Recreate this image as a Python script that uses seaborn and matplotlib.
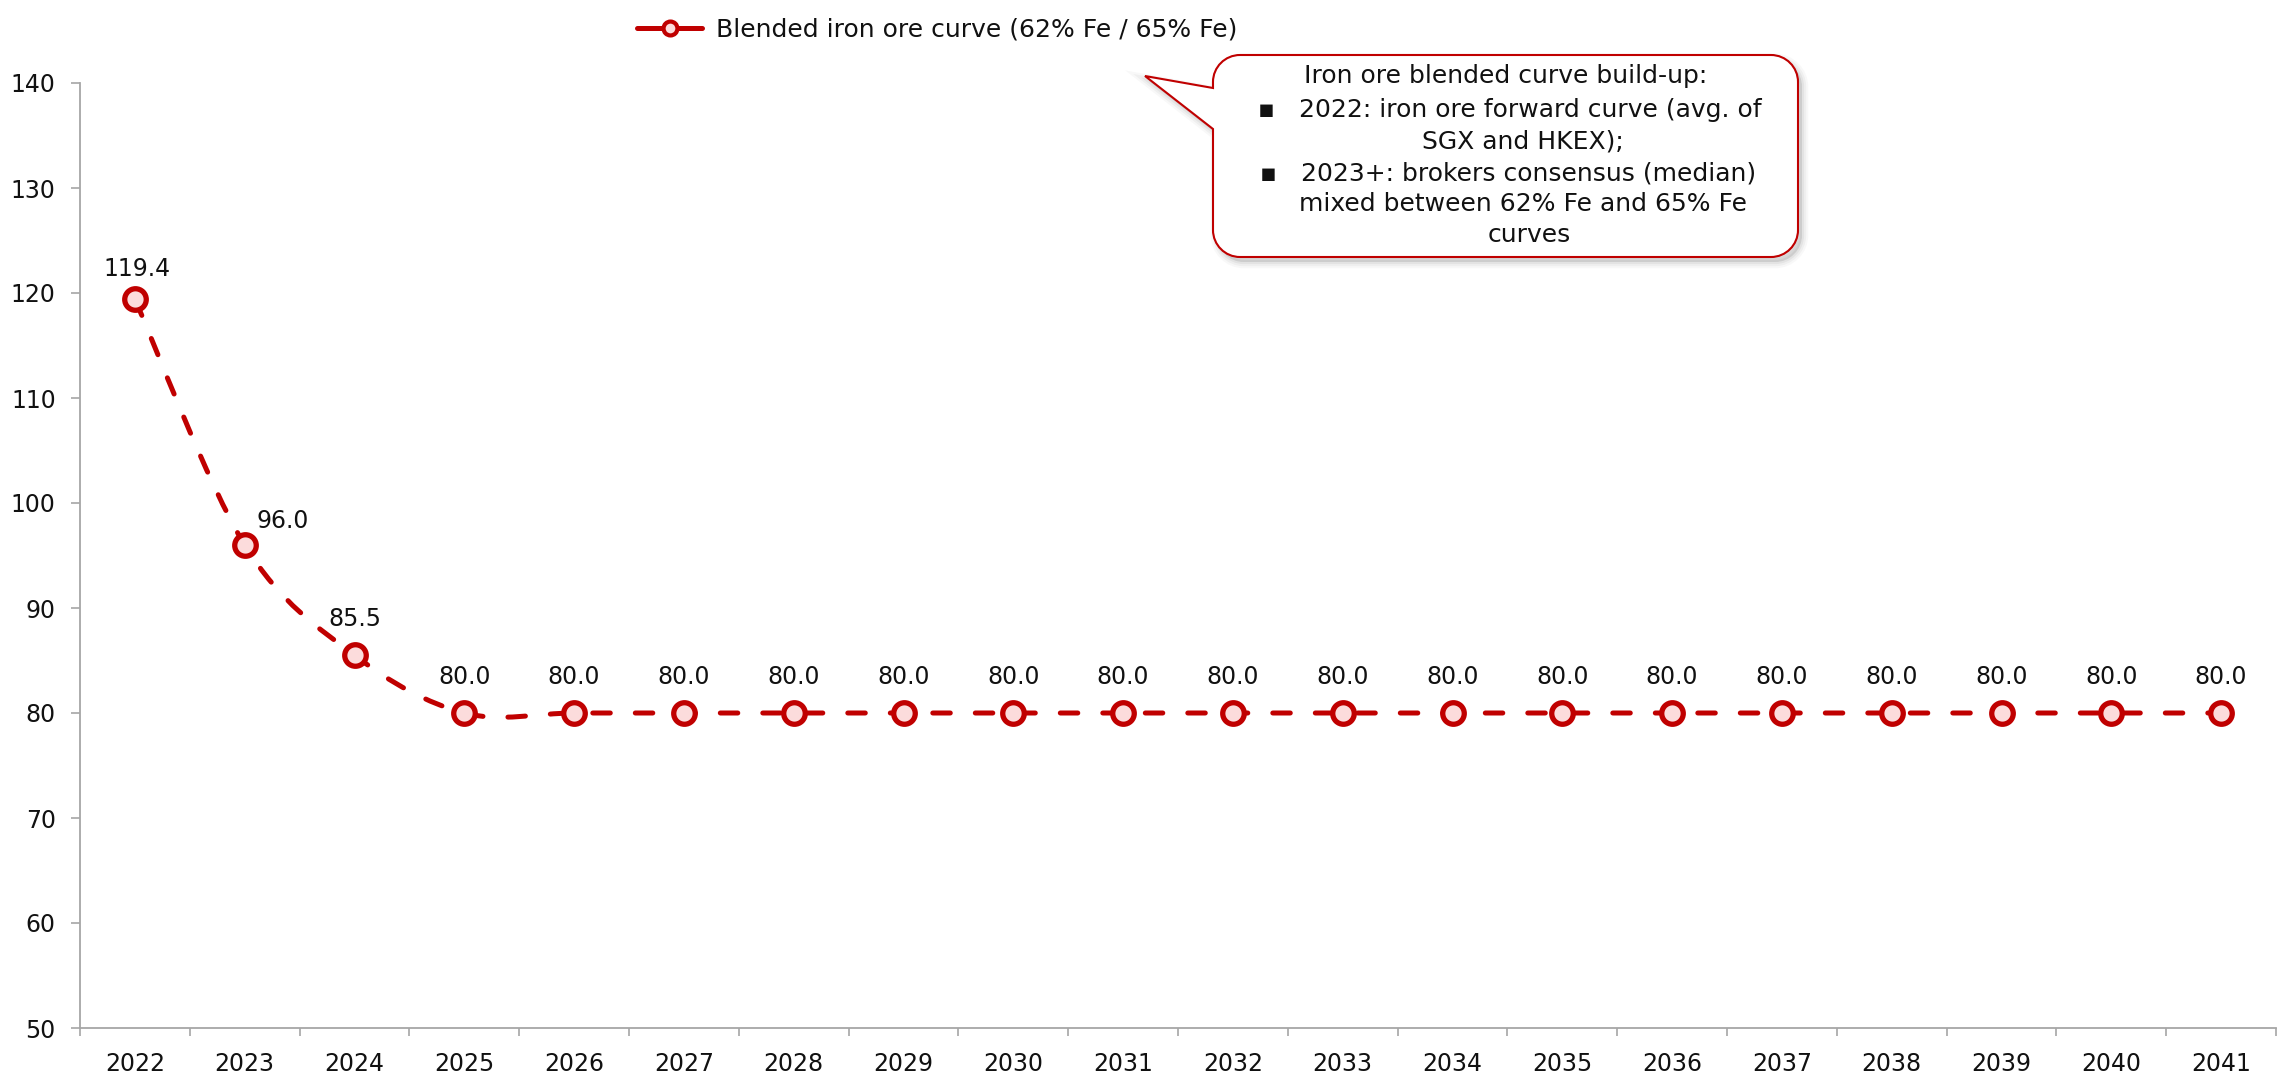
import numpy as np
import pandas as pd
import matplotlib
matplotlib.use("Agg")
import matplotlib.pyplot as plt
from matplotlib.path import Path
from matplotlib.patches import PathPatch
from matplotlib.lines import Line2D
from matplotlib.ticker import FixedLocator, NullFormatter
import seaborn as sns

# ---- data -------------------------------------------------------------
years = [str(y) for y in range(2022, 2042)]
price = [119.4, 96.0, 85.5, 80.0, 80.0, 80.0, 80.0, 80.0, 80.0, 80.0,
         80.0, 80.0, 80.0, 80.0, 80.0, 80.0, 80.0, 80.0, 80.0, 80.0]
series_label = "Blended iron ore curve (62% Fe / 65% Fe)"
y_ticks = [50, 60, 70, 80, 90, 100, 110, 120, 130, 140]
note_lines = [
    "Iron ore blended curve build-up:",
    "\u25AA   2022: iron ore forward curve (avg. of",
    "SGX and HKEX);",
    "\u25AA   2023+: brokers consensus (median)",
    "mixed between 62% Fe and 65% Fe",
    "curves",
]

# ---- style ------------------------------------------------------------
RED = "#C00000"
PINK = "#FCDCDC"
GREY = "#A6A6A6"
INK = "#111111"
FS = 17

sns.set_style("white")
plt.rcParams["font.family"] = ["DejaVu Sans"]
plt.rcParams["text.color"] = INK

W, H, DPI = 2279, 1077, 100
fig = plt.figure(figsize=(W / DPI, H / DPI), dpi=DPI)
ax = fig.add_axes([80 / W, 1 - 1028 / H, (2276 - 80) / W, (1028 - 83) / H])

df = pd.DataFrame({"pos": np.arange(len(years)), "year": years, "price": price})


def smooth_path(xs, ys):
    """Cubic Bezier path through the points (Catmull-Rom style smoothing)."""
    pts = np.column_stack([xs, ys]).astype(float)
    n = len(pts)
    verts = [pts[0]]
    codes = [Path.MOVETO]
    for i in range(n - 1):
        p0 = pts[max(i - 1, 0)]
        p1 = pts[i]
        p2 = pts[i + 1]
        p3 = pts[min(i + 2, n - 1)]
        c1 = p1 + (p2 - p0) / 6.0
        c2 = p2 - (p3 - p1) / 6.0
        verts += [c1, c2, p2]
        codes += [Path.CURVE4] * 3
    return Path(verts, codes)


# smoothed dashed curve
curve = PathPatch(smooth_path(df["pos"], df["price"]), fill=False,
                  edgecolor=RED, linewidth=3.6, linestyle=(0, (3.5, 5.0)),
                  zorder=2)
curve.set_capstyle("round")
ax.add_patch(curve)

# hollow circle markers
sns.scatterplot(data=df, x="pos", y="price", ax=ax, s=15.5 ** 2,
                color=PINK, edgecolor=RED, linewidth=3.8, zorder=3,
                legend=False)

# value labels (pixel offsets above each marker)
label_offsets = {0: (2, 30), 1: (38, 24)}
for i, v in enumerate(price):
    dx, dy = label_offsets.get(i, (0, 36))
    ax.annotate(f"{v:.1f}", (i, v), xytext=(dx * 72 / DPI, dy * 72 / DPI),
                textcoords="offset points", ha="center", va="center",
                fontsize=FS, color=INK)

# axes
ax.set_xlim(-0.5, len(years) - 0.5)
ax.set_ylim(50, 140)
ax.set_yticks(y_ticks)
ax.set_xticks(df["pos"])
ax.set_xticklabels(years)
ax.xaxis.set_minor_locator(FixedLocator(np.arange(len(years) + 1) - 0.5))
ax.xaxis.set_minor_formatter(NullFormatter())
ax.tick_params(axis="x", which="major", length=0, pad=17, labelsize=FS,
               labelcolor=INK)
ax.tick_params(axis="x", which="minor", length=6, width=1.2, color=GREY,
               direction="out", bottom=True)
ax.tick_params(axis="y", length=6.5, width=1.2, color=GREY, direction="out",
               pad=11, labelsize=FS, labelcolor=INK, left=True)
ax.set_xlabel("")
ax.set_ylabel("")
for side in ("top", "right"):
    ax.spines[side].set_visible(False)
for side in ("left", "bottom"):
    ax.spines[side].set_color(GREY)
    ax.spines[side].set_linewidth(1.3)
ax.grid(False)

# legend
handle = Line2D([], [], color=RED, lw=3.6, marker="o", ms=10, mew=3.0,
                mfc=PINK, mec=RED, solid_capstyle="round")
fig.legend(handles=[handle], labels=[series_label], loc="center left",
           bbox_to_anchor=(637 / W, 1 - 30 / H), frameon=False,
           borderpad=0, borderaxespad=0, handlelength=2.6,
           handletextpad=0.55, fontsize=18)

# callout box (pixel coordinates on an overlay)
ov = fig.add_axes([0, 0, 1, 1], zorder=5)
ov.set_xlim(0, W)
ov.set_ylim(H, 0)
ov.axis("off")
ov.patch.set_visible(False)


def callout_path(x0, y0, x1, y1, r, tip, base_top, base_bot, dx=0, dy=0):
    k = 0.5523 * r
    v = [
        (x0, base_top), tip, (x0, base_bot),
        (x0, y1 - r),
        (x0, y1 - r + k), (x0 + r - k, y1), (x0 + r, y1),
        (x1 - r, y1),
        (x1 - r + k, y1), (x1, y1 - r + k), (x1, y1 - r),
        (x1, y0 + r),
        (x1, y0 + r - k), (x1 - r + k, y0), (x1 - r, y0),
        (x0 + r, y0),
        (x0 + r - k, y0), (x0, y0 + r - k), (x0, y0 + r),
        (x0, base_top),
    ]
    c = ([Path.MOVETO, Path.LINETO, Path.LINETO, Path.LINETO]
         + [Path.CURVE4] * 3 + [Path.LINETO] + [Path.CURVE4] * 3
         + [Path.LINETO] + [Path.CURVE4] * 3 + [Path.LINETO]
         + [Path.CURVE4] * 3 + [Path.CLOSEPOLY])
    v = [(a + dx, b + dy) for a, b in v]
    return Path(v, c)


box = dict(x0=1213, y0=55, x1=1798, y1=257, r=27, tip=(1145, 76),
           base_top=88, base_bot=129)
for lw, al in [(9, 0.05), (6, 0.07), (3, 0.10)]:
    ov.add_patch(PathPatch(callout_path(**box, dx=4, dy=5), facecolor="#7F7F7F",
                           edgecolor="#7F7F7F", linewidth=lw, alpha=al,
                           zorder=1))
ov.add_patch(PathPatch(callout_path(**box), facecolor="white", edgecolor=RED,
                       linewidth=1.5, zorder=2, joinstyle="miter"))

note_pos = [(1506, 76), (1510, 110), (1523, 141), (1508, 173),
            (1523, 204), (1529, 235)]
for txt, (x, y) in zip(note_lines, note_pos):
    ov.text(x, y, txt, ha="center", va="center", fontsize=18, color=INK,
            zorder=3)

fig.savefig("out.png", dpi=DPI, facecolor="white")
